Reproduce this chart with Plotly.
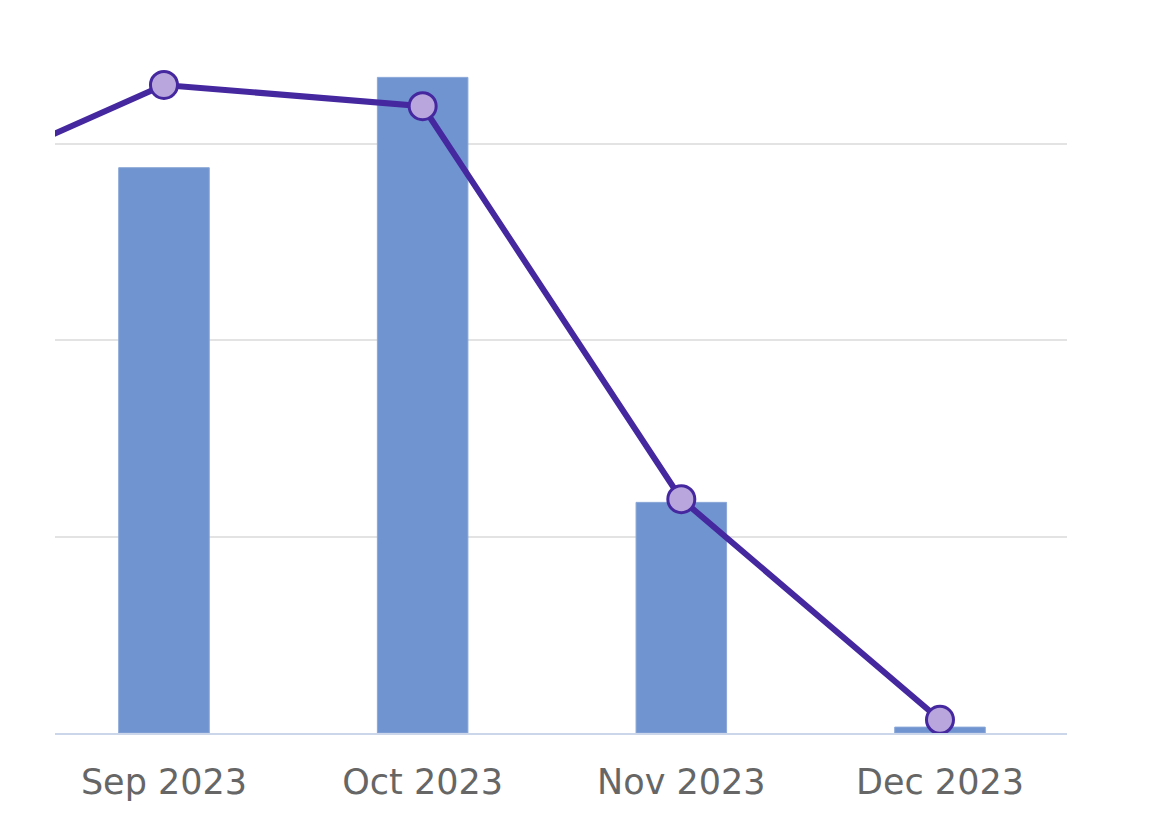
import plotly.graph_objects as go

# dados
meses = ["Aug 2023", "Sep 2023", "Oct 2023", "Nov 2023", "Dec 2023"]
meses_barras = ["Sep 2023", "Oct 2023", "Nov 2023", "Dec 2023"]
valores_barras = [57.6, 66.8, 23.5, 0.6]
valores_linha = [72.7, 88.4, 85.5, 31.9, 1.8]

fig = go.Figure()

# barras
fig.add_trace(go.Bar(x=meses_barras, y=valores_barras, width=0.35,
                     marker=dict(color="#7094cf", line=dict(color="#8aa7d8", width=1)),
                     showlegend=False))

# linha no segundo eixo
fig.add_trace(go.Scatter(x=meses, y=valores_linha, yaxis="y2", mode="lines+markers",
                         line=dict(color="#4527a0", width=6),
                         marker=dict(size=27, color="#b9a6dc", line=dict(color="#4527a0", width=3)),
                         cliponaxis=False, showlegend=False))

fig.update_layout(width=1170, height=828,
                  margin=dict(l=47, r=111, t=0, b=103),
                  plot_bgcolor="white", paper_bgcolor="white",
                  font=dict(family="DejaVu Sans", color="#666666"))

fig.update_xaxes(type="category", categoryorder="array", categoryarray=meses,
                 range=[0.5787, 4.491], showgrid=False, showline=True,
                 linecolor="#ccd6eb", linewidth=2, ticks="",
                 tickfont=dict(size=35, color="#666666"), ticklabelstandoff=17)

fig.update_yaxes(range=[0, 73.87], dtick=20, showticklabels=False, zeroline=False,
                 showgrid=True, gridcolor="#e3e3e3", gridwidth=2)

fig.update_layout(yaxis2=dict(overlaying="y", side="right", range=[0, 98.9],
                              showgrid=False, showticklabels=False, zeroline=False))

fig.write_html("out.html")
